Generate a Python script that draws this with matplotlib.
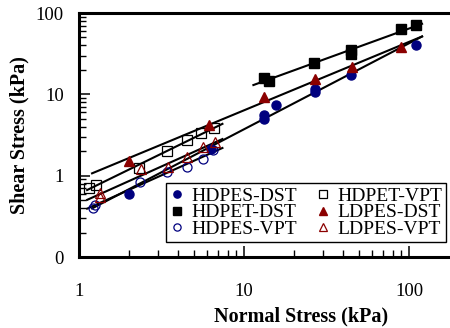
import numpy as np
import matplotlib
matplotlib.use("Agg")
import matplotlib.pyplot as plt

plt.rcParams['font.family'] = ['Liberation Serif', 'DejaVu Serif']

NAVY = '#00007f'
DRED = '#8b0000'

# ---- data (normal stress kPa, shear stress kPa) ----
hdpes_dst_x = [2.0, 6.3, 13.3, 13.3, 15.6, 27.0, 27.0, 44.3, 110.0]
hdpes_dst_y = [0.60, 2.15, 5.0, 5.5, 7.3, 10.6, 11.6, 17.3, 40.2]

hdpet_dst_x = [13.3, 14.1, 26.6, 44.3, 44.8, 89.0, 111.0]
hdpet_dst_y = [16.0, 14.6, 24.1, 35.2, 31.4, 63.2, 70.8]

hdpes_vpt_x = [1.22, 1.25, 2.34, 3.40, 4.49, 5.67, 6.51]
hdpes_vpt_y = [0.40, 0.44, 0.84, 1.12, 1.29, 1.61, 2.07]

hdpet_vpt_x = [1.15, 1.26, 2.32, 3.40, 4.50, 5.50, 6.60]
hdpet_vpt_y = [0.71, 0.76, 1.23, 2.03, 2.72, 3.32, 3.83]

ldpes_dst_x = [2.0, 6.1, 13.3, 27.0, 44.9, 89.5]
ldpes_dst_y = [1.53, 4.2, 9.2, 15.3, 21.5, 38.0]

ldpes_vpt_x = [1.34, 1.34, 2.38, 3.48, 4.49, 5.67, 6.67]
ldpes_vpt_y = [0.61, 0.54, 1.20, 1.29, 1.71, 2.22, 2.62]

# fit line ranges
range_dst_full = (1.2, 120.0)
range_hdpet_dst = (11.4, 120.0)
range_vpt = (1.12, 7.4)

y_ticks = [0.1, 1, 10, 100]
y_ticklabels = ['0', '1', '10', '100']
x_ticks = [1, 10, 100]
x_ticklabels = ['1', '10', '100']

fig = plt.figure(figsize=(4.5, 3.28), dpi=100)
ax = fig.add_axes([79/450, 1-257/328, 1-79/450, (257-13)/328])
ax.set_xscale('log')
ax.set_yscale('log')


def fitline(xs, ys, xr):
    p = np.polyfit(np.log10(xs), np.log10(ys), 1)
    xx = np.array(xr)
    yy = 10 ** np.polyval(p, np.log10(xx))
    ax.plot(xx, yy, color='black', lw=1.5, zorder=3)


fitline(ldpes_dst_x, ldpes_dst_y, range_dst_full)
fitline(hdpes_dst_x, hdpes_dst_y, range_dst_full)
fitline(hdpet_dst_x, hdpet_dst_y, range_hdpet_dst)
fitline(hdpet_vpt_x, hdpet_vpt_y, range_vpt)
fitline(ldpes_vpt_x, ldpes_vpt_y, range_vpt)
fitline(hdpes_vpt_x, hdpes_vpt_y, range_vpt)

ms = 6.5
ax.plot(hdpes_dst_x, hdpes_dst_y, 'o', color=NAVY, ms=ms, ls='none', label='HDPES-DST', zorder=4)
ax.plot(hdpet_dst_x, hdpet_dst_y, 's', color='black', ms=ms, ls='none', label='HDPET-DST', zorder=4)
ax.plot(hdpes_vpt_x, hdpes_vpt_y, 'o', mfc='none', mec=NAVY, mew=0.9, ms=ms, ls='none', label='HDPES-VPT', zorder=4)
ax.plot(hdpet_vpt_x, hdpet_vpt_y, 's', mfc='none', mec='black', mew=0.9, ms=ms, ls='none', label='HDPET-VPT', zorder=4)
ax.plot(ldpes_dst_x, ldpes_dst_y, '^', color=DRED, ms=ms, ls='none', label='LDPES-DST', zorder=4)
ax.plot(ldpes_vpt_x, ldpes_vpt_y, '^', mfc='none', mec=DRED, mew=0.9, ms=ms, ls='none', label='LDPES-VPT', zorder=4)

ax.set_xlim(1, 10 ** ((450 - 79) / 165))
ax.set_ylim(0.1, 100)

ax.set_xticks(x_ticks)
ax.set_xticklabels(x_ticklabels)
ax.set_yticks(y_ticks)
ax.set_yticklabels(y_ticklabels)
ax.tick_params(which='both', direction='in', top=False, right=False, labelsize=13.5)
ax.tick_params(axis='x', which='major', length=8, width=1.1, pad=19)
ax.tick_params(axis='y', which='major', length=8, width=1.1, pad=11)
ax.tick_params(which='minor', length=5, width=1.0)

for s in ['left', 'bottom', 'top']:
    ax.spines[s].set_linewidth(2.2)
ax.spines['right'].set_visible(False)

ax.set_xlabel('Normal Stress (kPa)', fontsize=14.5, fontweight='bold')
ax.xaxis.set_label_coords((301 - 79) / (450 - 79), -(306 - 257) / 244)
ax.set_ylabel('Shear Stress (kPa)', fontsize=14.5, fontweight='bold')
ax.yaxis.set_label_coords(-(79 - 29) / 371, 0.5)

leg = ax.legend(ncol=2, loc='lower right', bbox_to_anchor=((446 - 79) / 371, (257 - 242) / 244),
                fontsize=14, frameon=True, fancybox=False, edgecolor='black', framealpha=1,
                labelspacing=-0.05, handletextpad=0.35, columnspacing=0.9, borderpad=0.2,
                handlelength=0.8, markerscale=0.8, borderaxespad=0)
leg.get_frame().set_linewidth(1.0)

fig.savefig('out.png', dpi=100)
